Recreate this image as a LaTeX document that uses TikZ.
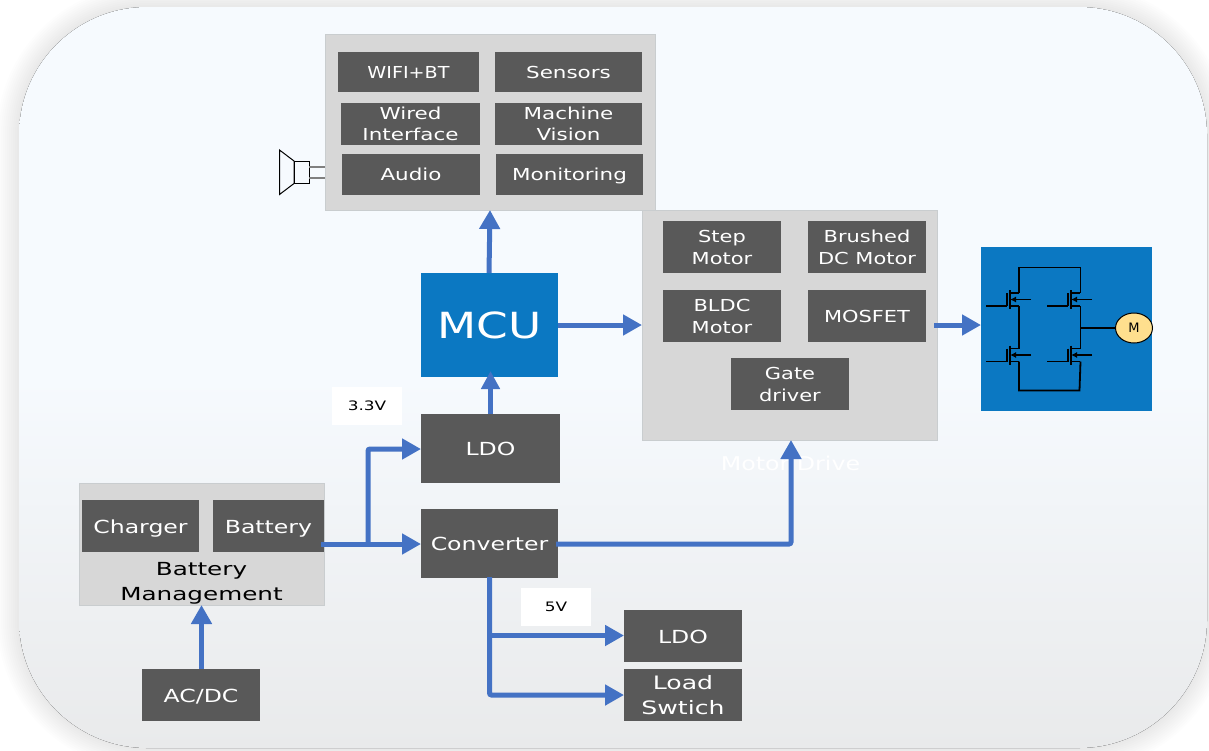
\documentclass[tikz,border=0pt]{standalone}
\usepackage{fontspec}
\setmainfont{DejaVu Sans}
\usetikzlibrary{arrows.meta,calc,shapes.geometric}
\definecolor{panelgrey}{HTML}{D7D7D7}
\definecolor{panelline}{HTML}{C9CDCF}
\definecolor{darkbox}{HTML}{595959}
\definecolor{flow}{HTML}{4472C4}
\definecolor{mcublue}{HTML}{0B78C2}
\definecolor{bgtop}{HTML}{F6FAFE}
\definecolor{bgbot}{HTML}{E9EAEB}
\definecolor{motorfill}{HTML}{FFDF8E}
\newcommand{\txs}{1.2}
\tikzset{
  anchorbox/.style={anchor=north west,inner sep=0pt,outer sep=0pt,align=center},
  dbox/.style={anchorbox,fill=darkbox,text=white},
  topbox/.style={dbox,font=\fontsize{16.5}{21}\selectfont,execute at begin node={\renewcommand{\txs}{1.3}}},
  topnarrow/.style={dbox,font=\fontsize{16.5}{21}\selectfont,execute at begin node={\renewcommand{\txs}{1.16}}},
  motbox/.style={dbox,font=\fontsize{16.5}{22}\selectfont,execute at begin node={\renewcommand{\txs}{1.27}}},
  bigbox/.style={dbox,font=\fontsize{18}{25}\selectfont,execute at begin node={\renewcommand{\txs}{1.31}}},
  loadbox/.style={dbox,font=\fontsize{18.5}{25}\selectfont,execute at begin node={\renewcommand{\txs}{1.36}}},
  panel/.style={anchorbox,fill=panelgrey,draw=panelline,line width=1pt},
  flowline/.style={draw=flow,line width=5pt,-{Triangle[length=19pt,width=20pt]},shorten >=0pt},
  lbl/.style={anchorbox,fill=white,font=\fontsize{13}{15}\selectfont},
  fet/.style={draw=black,line width=1.8pt},
  wire/.style={draw=black,line width=1.8pt},
}
% name, x0, y0, x1, y1, style, text
\newcommand{\pbox}[7]{\node[#6,minimum width=#4pt-#2pt,minimum height=#5pt-#3pt] (#1) at (#2,#3) {\raisebox{-2pt}[\height][\depth]{\scalebox{\txs}[1]{\begin{tabular}{@{}c@{}}#7\end{tabular}}}};}
\newcommand{\tightlines}{\renewcommand{\arraystretch}{1}\setlength{\tabcolsep}{0pt}}
\newcommand{\fetat}[2]{%
  \begin{scope}[shift={(#1,#2)}]
    \draw[fet] (-21,13) -- (0,13);
    \draw[fet] (0,0) -- (0,13);
    \draw[fet,line width=2.4pt] (3,-3) -- (3,16);
    \draw[fet] (3,0) -- (12,0);
    \draw[fet] (3,13) -- (12,13);
    \draw[fet,-{Latex[length=6pt,width=6pt]}] (24,6.5) -- (3,6.5);
  \end{scope}}
\begin{document}
\begin{tikzpicture}[x=1pt,y=-1pt]
\useasboundingbox (0,0) rectangle (1209,750);
\fill[white] (0,0) rectangle (1209,750);
\begin{scope}
\clip (0,0) rectangle (1209,750);
\foreach \d in {22,20,...,2}{
  \pgfmathsetmacro{\rr}{128+\d}
  \fill[black,opacity=0.008,rounded corners=\rr pt] (19-\d,7-\d) rectangle (1207+\d,748+\d);
}
\end{scope}
\fill[rounded corners=128pt,top color=bgtop,bottom color=bgbot,middle color=bgtop,shading angle=0] (19,7) rectangle (1207,748);

% panels
\pbox{toppanel}{325}{34}{655}{210}{panel}{}
\pbox{motorpanel}{642}{210}{937}{440}{panel}{}
\pbox{bms}{79}{483}{324}{605}{panel}{}
\node[font=\fontsize{18}{25}\selectfont,align=center,inner sep=0pt] (bmslabel) at (201.5,583) {\scalebox{1.37}[1]{\begin{tabular}{@{}c@{}}Battery\\Management\end{tabular}}};

% top panel contents
\pbox{wifi}{338}{52}{479}{92}{topnarrow}{WIFI+BT}
\pbox{sensors}{495}{52}{642}{92}{topbox}{Sensors}
\pbox{wired}{341}{103}{480}{144}{topbox}{\tightlines Wired\\Interface}
\pbox{vision}{495}{103}{642}{144}{topbox}{\tightlines Machine\\Vision}
\pbox{audio}{342}{154}{480}{195}{topbox}{Audio}
\pbox{monitor}{496}{154}{643}{195}{topbox}{Monitoring}

% motor panel contents
\pbox{step}{663}{221}{781}{273}{motbox}{\tightlines Step\\Motor}
\pbox{brushed}{808}{221}{926}{273}{motbox}{\tightlines Brushed\\DC Motor}
\pbox{bldc}{663}{290}{781}{342}{motbox}{\tightlines BLDC\\Motor}
\pbox{mosfet}{808}{290}{926}{342}{motbox}{MOSFET}
\pbox{gate}{731}{358}{849}{410}{motbox}{\tightlines Gate\\driver}
\node[text=white,font=\fontsize{19}{22}\selectfont,inner sep=0pt] (motordrive) at (790.5,463) {\scalebox{1.25}[1]{Motor Drive}};

% main blocks
\pbox{bridge}{981}{247}{1152}{411}{anchorbox,fill=mcublue}{}
\node[anchorbox,fill=mcublue,text=white,minimum width=137pt,minimum height=104pt,font=\fontsize{36}{40}\selectfont] (mcu) at (421,273) {\scalebox{1.26}[1]{MCU}};
\pbox{ldoa}{421}{414}{560}{483}{bigbox}{LDO}
\pbox{conv}{421}{509}{558}{578}{bigbox}{Converter}
\pbox{charger}{82}{500}{199}{552}{bigbox}{Charger}
\pbox{battery}{213}{500}{324}{552}{bigbox}{Battery}
\pbox{acdc}{142}{669}{260}{721}{bigbox}{AC/DC}
\pbox{ldob}{624}{610}{742}{662}{bigbox}{LDO}
\pbox{load}{624}{669}{742}{721}{loadbox}{\tightlines Load\\Swtich}

% voltage labels
\node[lbl,minimum width=70pt,minimum height=38pt] (vthree) at (332,387) {\scalebox{1.3}[1]{3.3V}};
\node[lbl,minimum width=70pt,minimum height=38pt] (vfive) at (521,588) {\scalebox{1.3}[1]{5V}};

% connectors
\coordinate (mcutop) at (489,273);
\coordinate (toppanelin) at (490,210);
\draw[flowline] (mcutop) -- (toppanelin);
\coordinate (ldoout) at (490.5,414);
\coordinate (mcuin) at (490.5,371);
\draw[flowline,-{Triangle[length=18pt,width=18pt]}] (ldoout) -- (mcuin);
\coordinate (mcuout) at (mcu.east);
\coordinate (motorin) at (642,325);
\draw[flowline] (mcuout) -- (motorin);
\coordinate (motorout) at (934,325);
\coordinate (bridgein) at (981,325);
\draw[flowline] (motorout) -- (bridgein);
\coordinate (batout) at (321,544);
\coordinate (convin) at (421,544);
\draw[flowline] (batout) -- (convin);
\coordinate (split) at (368,544);
\coordinate (ldoain) at (421,449);
\draw[flowline,rounded corners=2pt] (split) |- (ldoain);
\coordinate (convout) at (556,544);
\coordinate (motorbottom) at (791,440);
\draw[flowline,rounded corners=2pt] (convout) -| (motorbottom);
\coordinate (convbottom) at (489.5,577);
\coordinate (loadin) at (624,695);
\draw[flowline,rounded corners=2pt] (convbottom) |- (loadin);
\coordinate (branch) at (489.5,635.5);
\coordinate (ldobin) at (624,635.5);
\draw[flowline] (branch) -- (ldobin);
\coordinate (acdcout) at (201.5,669);
\coordinate (bmsin) at (201.5,605);
\draw[flowline] (acdcout) -- (bmsin);

% speaker
\draw[black,line width=1pt,fill=bgtop] (279.5,150) -- (294,161) -- (294,183.5) -- (279.5,194.5) -- cycle;
\draw[black,line width=1pt,fill=bgtop] (294,161) rectangle (309,183.5);
\draw[gray,line width=1.2pt] (309,167) -- (325,167) (309,178) -- (325,178);

% H-bridge
\fetat{1007}{293}
\fetat{1068}{293}
\fetat{1007}{348.5}
\fetat{1068}{348.5}
\node[draw=black,line width=1pt,fill=motorfill,ellipse,minimum width=37pt,minimum height=30pt,inner sep=0pt,font=\fontsize{13}{15}\selectfont] (motor) at (1134,328) {M};
\draw[wire] (1019,293) -- (1019,267.5) -- (1080.5,267.5) -- (1080.5,293);
\draw[wire] (1019,306) -- (1019,348.5);
\draw[wire] (1080.5,306) -- (1080.5,348.5);
\draw[wire] (1019,361.5) -- (1019,390.5) -- (1079.5,390.5) -- (1080.5,361.5);
\draw[wire] (1080.5,328) -- (motor.west);
\end{tikzpicture}
\end{document}
